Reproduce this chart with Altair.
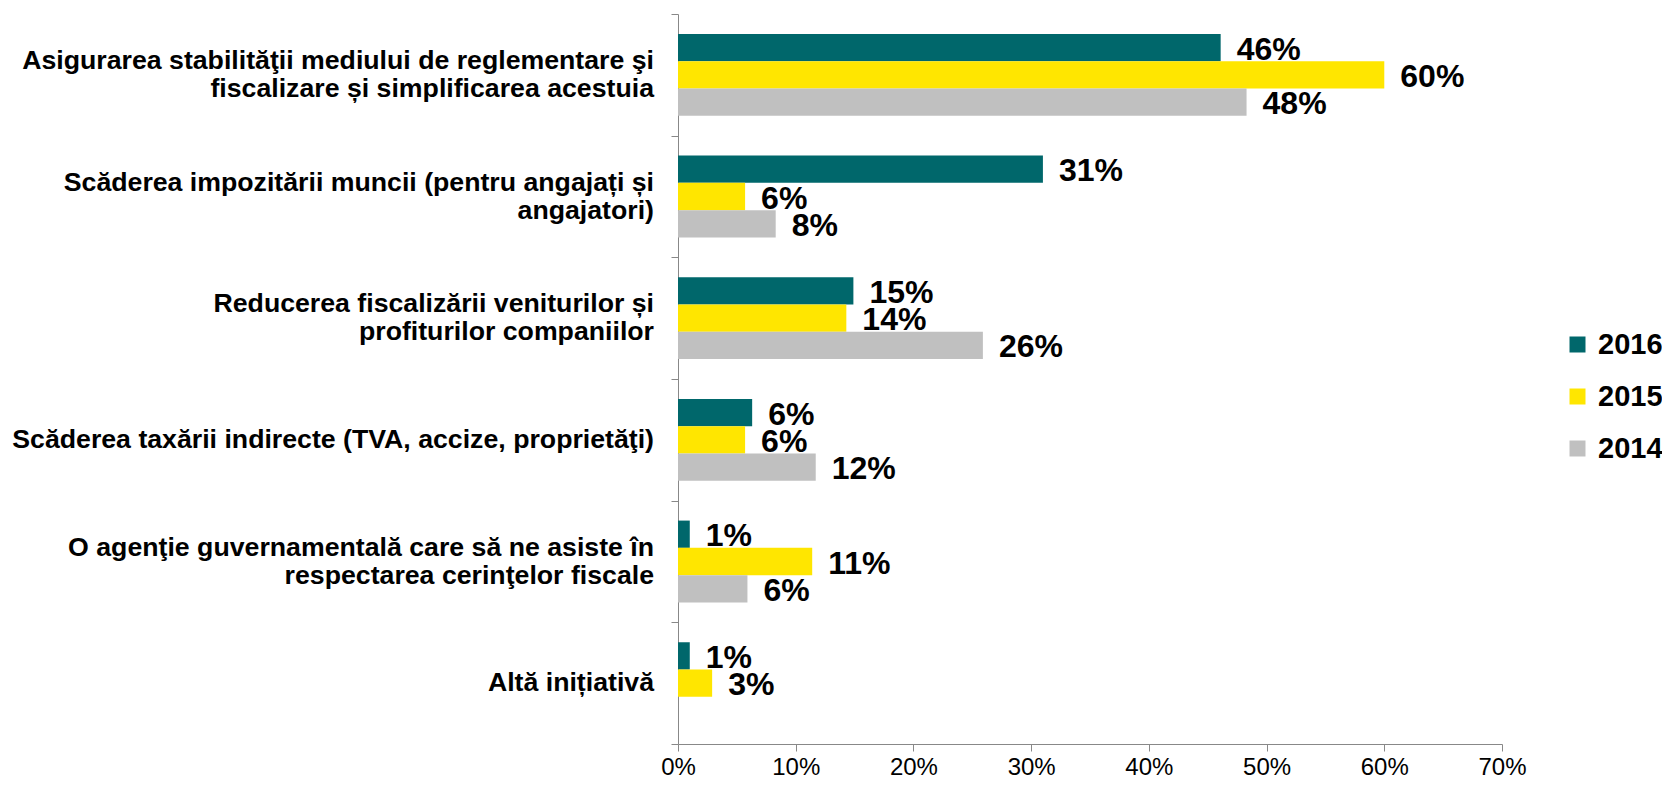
import altair as alt
import pandas as pd

categories = [
    "Asigurarea stabilităţii mediului de reglementare şi\nfiscalizare și simplificarea acestuia",
    "Scăderea impozitării muncii (pentru angajați și\nangajatori)",
    "Reducerea fiscalizării veniturilor și\nprofiturilor companiilor",
    "Scăderea taxării indirecte (TVA, accize, proprietăţi)",
    "O agenţie guvernamentală care să ne asiste în\nrespectarea cerinţelor fiscale",
    "Altă inițiativă",
]
years = ["2016", "2015", "2014"]
v2016 = [46.1, 31.0, 14.9, 6.3, 1.0, 1.0]
v2015 = [60.0, 5.7, 14.3, 5.7, 11.4, 2.9]
v2014 = [48.3, 8.3, 25.9, 11.7, 5.9, None]
colors = ["#00676B", "#FFE600", "#C0C0C0"]
x_ticks = [0, 10, 20, 30, 40, 50, 60, 70]

rows = []
for yr, vals in zip(years, [v2016, v2015, v2014]):
    for c, v in zip(categories, vals):
        if v is not None:
            rows.append({"category": c, "year": yr, "value": v})
df = pd.DataFrame(rows)
cat_df = pd.DataFrame({"category": categories})

FONT = "Liberation Sans"

y_enc = alt.Y(
    "category:N",
    sort=categories,
    scale=alt.Scale(paddingInner=0, paddingOuter=0),
    axis=alt.Axis(
        title=None,
        labels=False,
        tickSize=7,
        tickColor="#888888",
        domainColor="#888888",
        tickBand="extent",
    ),
)

base = alt.Chart(df).encode(
    y=y_enc,
    yOffset=alt.YOffset("year:N", sort=years, scale=alt.Scale(paddingInner=0, paddingOuter=0.73)),
)

bars = base.mark_bar().encode(
    x=alt.X(
        "value:Q",
        scale=alt.Scale(domain=[0, 70], nice=False),
        axis=alt.Axis(
            title=None,
            values=x_ticks,
            labelExpr="datum.value + '%'",
            labelFlush=False,
            grid=False,
            tickSize=7,
            tickColor="#888888",
            domainColor="#888888",
            labelFontSize=24,
            labelFont=FONT,
            labelColor="black",
            labelPadding=4,
        ),
    ),
    color=alt.Color(
        "year:N",
        sort=years,
        scale=alt.Scale(domain=years, range=colors),
        legend=alt.Legend(
            title=None,
            orient="none",
            legendX=885,
            legendY=316,
            symbolType="square",
            symbolSize=256,
            symbolStrokeWidth=0,
            labelFontSize=29,
            labelFontWeight="bold",
            labelFont=FONT,
            labelColor="black",
            rowPadding=22,
            labelOffset=6,
        ),
    ),
)

labels = base.transform_calculate(
    label="format(datum.value, '.0f') + '%'"
).mark_text(
    align="left", baseline="middle", dx=16, dy=2,
    fontSize=32, fontWeight="bold", font=FONT, color="black",
).encode(
    x=alt.X("value:Q"),
    text="label:N",
)

cat_base = alt.Chart(cat_df).transform_calculate(
    lines="split(datum.category, '\\n')"
).encode(
    y=y_enc,
    x=alt.value(-24),
    text=alt.Text("lines:N"),
)
cat_style = dict(align="right", baseline="middle", fontSize=26.7, fontWeight="bold",
                 font=FONT, color="black", lineHeight=28)
cat_two = cat_base.transform_filter("indexof(datum.category, '\\n') >= 0").mark_text(dy=-14, **cat_style)
cat_one = cat_base.transform_filter("indexof(datum.category, '\\n') < 0").mark_text(dy=0, **cat_style)

chart = alt.layer(bars, labels, cat_two, cat_one).properties(
    width=824,
    height=730,
    autosize=alt.AutoSizeParams(type="none"),
    padding={"left": 670, "top": 6, "right": 160, "bottom": 36},
).configure_view(stroke=None)

chart.save("out.html", embed_options={"renderer": "svg", "actions": False})
